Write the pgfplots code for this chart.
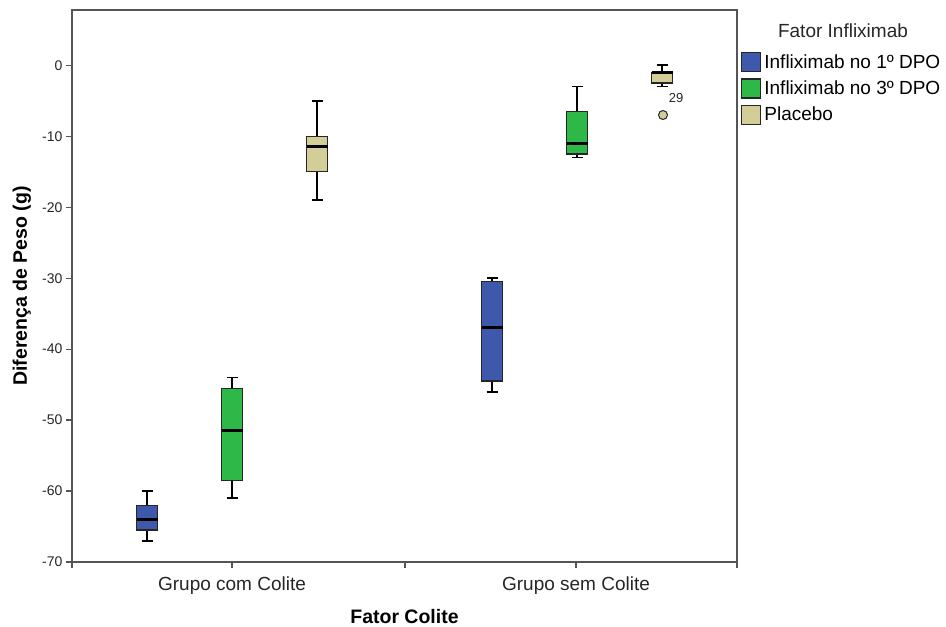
\documentclass[border=0pt]{standalone}
\usepackage{fontspec}
\setmainfont{Liberation Sans}
\usepackage{pgfplots}
\pgfplotsset{compat=1.18}
\definecolor{cblue}{HTML}{3E58AC}
\definecolor{cgreen}{HTML}{2EB848}
\definecolor{ctan}{HTML}{D3CE97}
\definecolor{axgray}{HTML}{555555}
\begin{document}
\begin{tikzpicture}
\useasboundingbox (-72bp,-65bp) rectangle (874bp,562bp);
\begin{axis}[
  at={(0,0)}, anchor=south west,
  scale only axis, width=665bp, height=552bp,
  xmin=0, xmax=665, ymin=-70, ymax=7.8,
  xtick={0,160,333,504,665},
  xticklabels={,Grupo com Colite,,Grupo sem Colite,},
  ytick={-70,-60,...,0},
  tick align=outside, major tick length=6bp,
  xtick pos=lower, ytick pos=lower,
  tick style={draw=axgray, line width=1.2bp},
  axis line style={draw=axgray, line width=1.2bp},
  /pgf/number format/assume math mode=true,
  yticklabel style={font=\fontsize{14bp}{16bp}\selectfont, text=black!85},
  xticklabel style={font=\fontsize{19bp}{22bp}\selectfont, text=black!85, yshift=-5bp},
  xlabel={Fator Colite}, ylabel={Diferença de Peso (g)},
  label style={font=\fontsize{19.5bp}{22bp}\selectfont\bfseries},
  xlabel style={at={(axis description cs:0.5,-0.0985)}, anchor=center},
  ylabel style={at={(axis description cs:-0.0752,0.5)}, anchor=center},
  clip=false,
  unbounded coords=jump,
  legend style={at={(axis description cs:1.006,0.924)}, anchor=north west,
    draw=none, fill=none, inner sep=0pt, row sep=6bp, column sep=3bp,
    font=\fontsize{19bp}{22bp}\selectfont, nodes={inner sep=0pt}},
  legend cell align=left,
  legend image code/.code={\draw[#1, draw=black!85, line width=1.2bp] (0bp,-9.5bp) rectangle (19bp,9.5bp);},
  whisk/.style={forget plot, draw=black, line width=1.7bp, mark=none},
  boxs/.style={forget plot, draw=black!85, line width=1.2bp, line join=miter, line cap=rect, mark=none, fill=#1},
  med/.style={forget plot, draw=black, line width=3bp, mark=none},
]
% ---------- whiskers (vertical lines and caps) ----------
% Grupo com Colite, Infliximab no 1o DPO: min -67, max -60
\addplot[whisk] coordinates {(75,-62) (75,-60) (75,nan) (69.5,-60) (80.5,-60) (75,nan) (75,-65.5) (75,-67) (75,nan) (69.5,-67) (80.5,-67)};
% Grupo com Colite, Infliximab no 3o DPO: min -61, max -44
\addplot[whisk] coordinates {(160,-45.5) (160,-44) (160,nan) (154.5,-44) (165.5,-44) (160,nan) (160,-58.5) (160,-61) (160,nan) (154.5,-61) (165.5,-61)};
% Grupo com Colite, Placebo: min -19, max -5
\addplot[whisk] coordinates {(245,-10) (245,-5) (245,nan) (239.5,-5) (250.5,-5) (245,nan) (245,-15) (245,-19) (245,nan) (239.5,-19) (250.5,-19)};
% Grupo sem Colite, Infliximab no 1o DPO: min -46, max -30
\addplot[whisk] coordinates {(420,-30.5) (420,-30) (420,nan) (414.5,-30) (425.5,-30) (420,nan) (420,-44.5) (420,-46) (420,nan) (414.5,-46) (425.5,-46)};
% Grupo sem Colite, Infliximab no 3o DPO: min -13, max -3
\addplot[whisk] coordinates {(505,-6.5) (505,-3) (505,nan) (499.5,-3) (510.5,-3) (505,nan) (505,-12.5) (505,-13) (505,nan) (499.5,-13) (510.5,-13)};
% Grupo sem Colite, Placebo: min -3, max 0
\addplot[whisk] coordinates {(590,-1) (590,0) (590,nan) (584.5,0) (595.5,0) (590,nan) (590,-2.5) (590,-3) (590,nan) (584.5,-3) (595.5,-3)};
% ---------- boxes (Q1 to Q3) ----------
\addplot[boxs=cblue]  coordinates {(64.5,-65.5) (85.5,-65.5) (85.5,-62) (64.5,-62) (64.5,-65.5)};
\addplot[boxs=cgreen] coordinates {(149.5,-58.5) (170.5,-58.5) (170.5,-45.5) (149.5,-45.5) (149.5,-58.5)};
\addplot[boxs=ctan]   coordinates {(234.5,-15) (255.5,-15) (255.5,-10) (234.5,-10) (234.5,-15)};
\addplot[boxs=cblue]  coordinates {(409.5,-44.5) (430.5,-44.5) (430.5,-30.5) (409.5,-30.5) (409.5,-44.5)};
\addplot[boxs=cgreen] coordinates {(494.5,-12.5) (515.5,-12.5) (515.5,-6.5) (494.5,-6.5) (494.5,-12.5)};
\addplot[boxs=ctan]   coordinates {(579.5,-2.5) (600.5,-2.5) (600.5,-1) (579.5,-1) (579.5,-2.5)};
% ---------- medians ----------
\addplot[med] coordinates {(64.5,-64) (85.5,-64)};
\addplot[med] coordinates {(149.5,-51.5) (170.5,-51.5)};
\addplot[med] coordinates {(234.5,-11.5) (255.5,-11.5)};
\addplot[med] coordinates {(409.5,-37) (430.5,-37)};
\addplot[med] coordinates {(494.5,-11) (515.5,-11)};
\addplot[med] coordinates {(579.5,-1) (600.5,-1)};
% ---------- outlier (case 29) ----------
\addplot[forget plot, only marks, mark=*, mark size=4.5bp,
  mark options={fill=ctan, draw=black!85, line width=1bp}] coordinates {(591,-7)};
\node[font=\fontsize{13bp}{15bp}\selectfont, text=black!85] at (axis cs:604,-4.6) {29};
\node[font=\fontsize{19bp}{22bp}\selectfont, text=black!85] at (axis description cs:1.1594,0.962) {Fator Infliximab};
\addlegendimage{fill=cblue}
\addlegendentry{Infliximab no 1º DPO}
\addlegendimage{fill=cgreen}
\addlegendentry{Infliximab no 3º DPO}
\addlegendimage{fill=ctan}
\addlegendentry{Placebo}
\end{axis}
\end{tikzpicture}
\end{document}
